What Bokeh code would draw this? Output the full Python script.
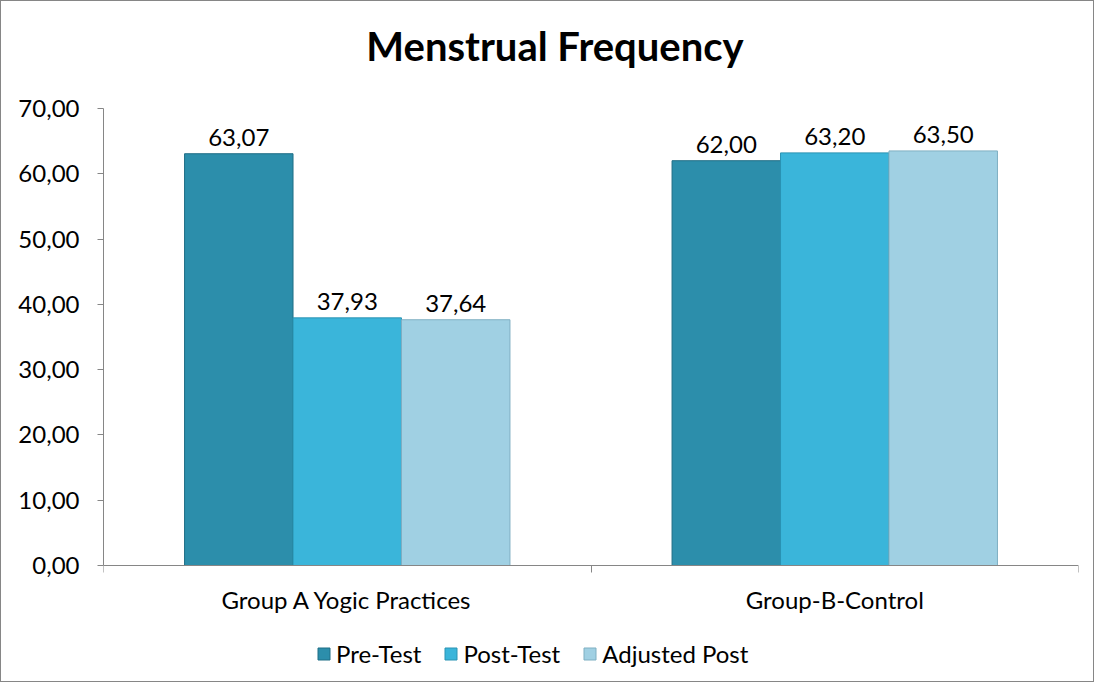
from bokeh.plotting import figure
from bokeh.models import (ColumnDataSource, LabelSet, Label, Legend, LegendItem, FixedTicker,
                          CustomJSTickFormatter, Range1d)
from bokeh.core.properties import value
from bokeh.embed import file_html
from bokeh.resources import INLINE

title = "Menstrual Frequency"
groups = ["Group A Yogic Practices", "Group-B-Control"]
series = ["Pre-Test", "Post-Test", "Adjusted Post"]
pre_test = [63.07, 62.00]
post_test = [37.93, 63.20]
adjusted_post = [37.64, 63.50]
values = [pre_test, post_test, adjusted_post]
colors = ["#2C8EAB", "#3AB5DA", "#A0D0E3"]
edges = ["#1F6E86", "#2A93B3", "#7FAFC2"]
y_ticks = [0, 10, 20, 30, 40, 50, 60, 70]

FONT = "Lato"
FS = "24px"
bar_w = 0.2225

# the frame extends above 70 and below 0 so the title and legend sit inside it;
# the y axis itself is bounded to 0..70
p = figure(width=1094, height=682, x_range=Range1d(0, 2), y_range=Range1d(-17.46, 86.08),
           output_backend="svg", toolbar_location=None,
           min_border_left=102, min_border_right=17, min_border_top=2, min_border_bottom=4)

p.styles = {"border": "1px solid #868686", "box-sizing": "border-box"}

p.add_layout(Label(x=1, y=79.6, x_offset=-36, text=title, text_align="center",
                   text_baseline="alphabetic", text_font=FONT, text_font_size="40px",
                   text_font_style="bold", text_color="#000000"))

items = []
for j, (name, vals) in enumerate(zip(series, values)):
    xs = [i + 0.5 + (j - 1) * bar_w for i in range(len(groups))]
    src = ColumnDataSource(dict(x=xs, top=vals,
                                txt=[f"{v:.2f}".replace(".", ",") for v in vals]))
    r = p.vbar(x="x", top="top", bottom=0, width=bar_w, source=src,
               fill_color=colors[j], line_color=edges[j], line_width=1)
    p.add_layout(LabelSet(x="x", y="top", text="txt", source=src, y_offset=8,
                          text_align="center", text_baseline="alphabetic",
                          text_font=value(FONT), text_font_size=value(FS),
                          text_color="#000000"))
    items.append(LegendItem(label=name, renderers=[r]))

p.xgrid.visible = False
p.ygrid.visible = False
p.outline_line_color = None

ya = p.yaxis[0]
ya.ticker = FixedTicker(ticks=y_ticks)
ya.bounds = (0, 70)
ya.formatter = CustomJSTickFormatter(code="return tick.toFixed(2).replace('.', ',');")
ya.axis_line_color = "#868686"
ya.major_tick_line_color = "#868686"
ya.major_tick_out = 6
ya.major_tick_in = 0
ya.minor_tick_line_color = None
ya.major_label_standoff = 18
ya.major_label_text_font = FONT
ya.major_label_text_font_size = FS
ya.major_label_text_color = "#000000"

xa = p.xaxis[0]
xa.fixed_location = 0
xa.ticker = FixedTicker(ticks=[0.5, 1.5], minor_ticks=[0, 1, 2])
xa.formatter = CustomJSTickFormatter(args=dict(labels=groups),
                                     code="return labels[Math.floor(tick)];")
xa.axis_line_color = "#868686"
xa.major_tick_line_color = None
xa.minor_tick_line_color = "#868686"
xa.minor_tick_out = 7
xa.minor_tick_in = 0
xa.major_label_standoff = 12
xa.major_label_text_font = FONT
xa.major_label_text_font_size = FS
xa.major_label_text_color = "#000000"

legend = Legend(items=items, orientation="horizontal", location=(213, 11),
                label_text_font=FONT, label_text_font_size=FS,
                label_text_color="#000000", glyph_width=15, glyph_height=15,
                spacing=22, label_standoff=5, border_line_color=None,
                background_fill_alpha=0, margin=0, padding=4)
p.add_layout(legend)

open("out.html", "w").write(file_html(p, INLINE))
